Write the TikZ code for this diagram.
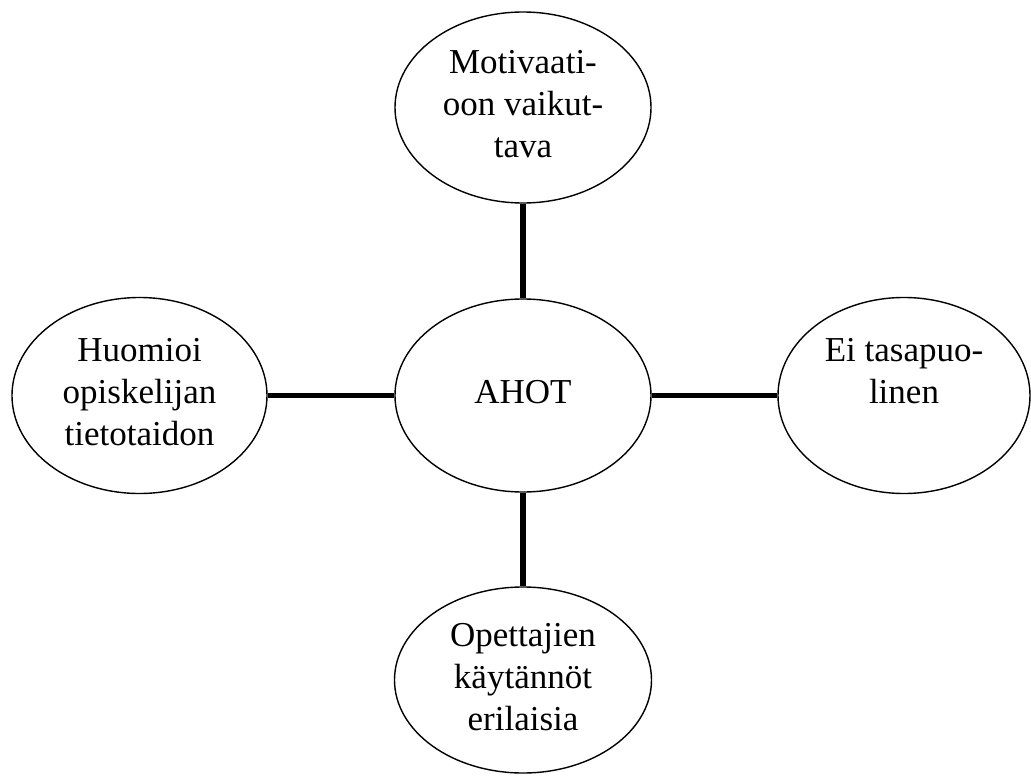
\documentclass[tikz,border=0pt]{standalone}
\usepackage{fontspec}
\setmainfont{Liberation Serif}
\usetikzlibrary{shapes.geometric}
\newcommand\lnstrut{\rule[-13pt]{0pt}{42pt}}
\tikzset{
  bubble/.style={draw=black, line width=1.4pt, ellipse, inner sep=0pt,
    align=center, font=\fontsize{35pt}{42pt}\selectfont},
  link/.style={line width=5.5pt, black}
}
\begin{document}
\begin{tikzpicture}[x=1pt,y=-1pt]
\useasboundingbox (0,0) rectangle (1031,776);
\node[bubble, minimum width=256pt, minimum height=191pt] (top) at (523,107.5)
  {\lnstrut Motivaati-\\\lnstrut oon vaikut-\\\lnstrut tava};
\node[bubble, minimum width=256pt, minimum height=193pt] (ahot) at (523,395.5)
  {\lnstrut AHOT};
\node[bubble, minimum width=255pt, minimum height=196pt] (left) at (139.5,395.5)
  {\lnstrut Huomioi\\\lnstrut opiskelijan\\\lnstrut tietotaidon};
\node[bubble, minimum width=252pt, minimum height=196pt] (right) at (904,395.5)
  {\lnstrut Ei tasapuo-\\\lnstrut linen\\\lnstrut};
\node[bubble, minimum width=257pt, minimum height=186pt] (bottom) at (523,680)
  {\lnstrut Opettajien\\\lnstrut käytännöt\\\lnstrut erilaisia};
\draw[link] (top.south) -- (ahot.north);
\draw[link] (left.east) -- (ahot.west);
\draw[link] (ahot.east) -- (right.west);
\draw[link] (ahot.south) -- (bottom.north);
\end{tikzpicture}
\end{document}
